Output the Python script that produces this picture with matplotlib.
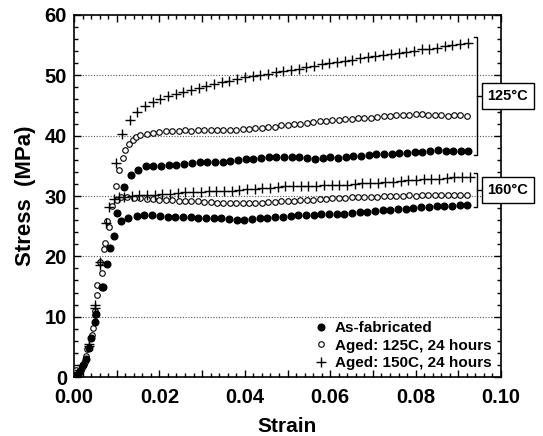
import matplotlib
matplotlib.use("Agg")
import matplotlib.pyplot as plt
from matplotlib.ticker import MultipleLocator, FuncFormatter

# As-fabricated, tested at 125C (filled circles, upper set)
strain_fab_125 = [0.0, 0.0010, 0.0022, 0.0035, 0.0049, 0.0065, 0.0078, 0.0094,
                  0.0100, 0.0116, 0.0133, 0.0151, 0.0168, 0.0186, 0.0204, 0.0222,
                  0.0240, 0.0258, 0.0276, 0.0294, 0.0312, 0.0330, 0.0348, 0.0366,
                  0.0384, 0.0402, 0.0420, 0.0438, 0.0456, 0.0474, 0.0492, 0.0510,
                  0.0528, 0.0546, 0.0564, 0.0582, 0.0600, 0.0618, 0.0636, 0.0654,
                  0.0672, 0.0690, 0.0708, 0.0726, 0.0744, 0.0762, 0.0780, 0.0798,
                  0.0816, 0.0834, 0.0852, 0.0870, 0.0888, 0.0906, 0.0922]
stress_fab_125 = [0.0, 0.5, 2.0, 4.8, 9.2, 14.9, 18.7, 23.4,
                  27.2, 31.5, 33.5, 34.3, 34.9, 35.0, 35.0, 35.1,
                  35.2, 35.3, 35.5, 35.6, 35.6, 35.7, 35.7, 35.8,
                  36.0, 36.2, 36.1, 36.3, 36.4, 36.4, 36.5, 36.4,
                  36.5, 36.3, 36.2, 36.3, 36.4, 36.3, 36.5, 36.6,
                  36.6, 36.8, 36.9, 36.9, 37.0, 37.1, 37.2, 37.3,
                  37.3, 37.5, 37.6, 37.4, 37.4, 37.4, 37.4]

# As-fabricated, tested at 160C (filled circles, lower set)
strain_fab_160 = [0.0, 0.0013, 0.0027, 0.0040, 0.0051, 0.0067, 0.0084, 0.0109,
                  0.0127, 0.0147, 0.0165, 0.0183, 0.0201, 0.0219, 0.0237, 0.0255,
                  0.0273, 0.0291, 0.0309, 0.0327, 0.0345, 0.0363, 0.0381, 0.0399,
                  0.0417, 0.0435, 0.0453, 0.0471, 0.0489, 0.0507, 0.0525, 0.0543,
                  0.0561, 0.0579, 0.0597, 0.0615, 0.0633, 0.0651, 0.0669, 0.0687,
                  0.0705, 0.0723, 0.0741, 0.0759, 0.0777, 0.0795, 0.0813, 0.0831,
                  0.0849, 0.0867, 0.0885, 0.0903, 0.0920]
stress_fab_160 = [0.0, 1.0, 3.0, 6.5, 10.5, 15.0, 21.3, 25.9,
                  26.4, 26.7, 26.8, 26.8, 26.7, 26.6, 26.6, 26.5,
                  26.5, 26.4, 26.4, 26.3, 26.3, 26.2, 26.1, 26.1,
                  26.2, 26.3, 26.4, 26.5, 26.6, 26.7, 26.8, 26.8,
                  26.9, 27.0, 27.0, 27.1, 27.1, 27.2, 27.3, 27.4,
                  27.5, 27.6, 27.7, 27.8, 27.9, 28.0, 28.1, 28.2,
                  28.3, 28.4, 28.4, 28.5, 28.5]

# Aged 125C 24 h (open circles)
strain_a125_125 = [0.0, 0.0008, 0.0018, 0.0028, 0.0041, 0.0049, 0.0055, 0.0066,
                   0.0073, 0.0083, 0.0098, 0.0106, 0.0114, 0.0120, 0.0128, 0.0137,
                   0.0146, 0.0155, 0.0170, 0.0185, 0.0200, 0.0215, 0.0230, 0.0245,
                   0.0260, 0.0275, 0.0290, 0.0305, 0.0320, 0.0335, 0.0350, 0.0365,
                   0.0380, 0.0395, 0.0410, 0.0425, 0.0440, 0.0455, 0.0470, 0.0485,
                   0.0500, 0.0515, 0.0530, 0.0545, 0.0560, 0.0575, 0.0590, 0.0605,
                   0.0620, 0.0635, 0.0650, 0.0665, 0.0680, 0.0695, 0.0710, 0.0725,
                   0.0740, 0.0755, 0.0770, 0.0785, 0.0800, 0.0815, 0.0830, 0.0845,
                   0.0860, 0.0875, 0.0890, 0.0905, 0.0920]
stress_a125_125 = [0.0, 0.6, 1.5, 3.4, 7.0, 10.3, 13.6, 17.2,
                   22.2, 24.8, 31.7, 34.3, 36.3, 37.6, 38.6, 39.3,
                   39.8, 40.1, 40.3, 40.5, 40.6, 40.7, 40.8, 40.8,
                   40.9, 40.8, 40.9, 40.9, 40.9, 41.0, 40.9, 41.0,
                   41.0, 41.1, 41.1, 41.3, 41.3, 41.5, 41.5, 41.7,
                   41.7, 41.9, 42.0, 42.1, 42.2, 42.4, 42.5, 42.6,
                   42.6, 42.7, 42.8, 42.9, 42.9, 43.0, 43.1, 43.2,
                   43.3, 43.4, 43.4, 43.5, 43.6, 43.6, 43.5, 43.5,
                   43.4, 43.3, 43.4, 43.5, 43.3]

strain_a125_160 = [0.0, 0.0005, 0.0014, 0.0026, 0.0031, 0.0044, 0.0049, 0.0055,
                   0.0062, 0.0071, 0.0078, 0.0090, 0.0100, 0.0110, 0.0125, 0.0140,
                   0.0155, 0.0170, 0.0185, 0.0200, 0.0215, 0.0230, 0.0245, 0.0260,
                   0.0275, 0.0290, 0.0305, 0.0320, 0.0335, 0.0350, 0.0365, 0.0380,
                   0.0395, 0.0410, 0.0425, 0.0440, 0.0455, 0.0470, 0.0485, 0.0500,
                   0.0515, 0.0530, 0.0545, 0.0560, 0.0575, 0.0590, 0.0605, 0.0620,
                   0.0635, 0.0650, 0.0665, 0.0680, 0.0695, 0.0710, 0.0725, 0.0740,
                   0.0755, 0.0770, 0.0785, 0.0800, 0.0815, 0.0830, 0.0845, 0.0860,
                   0.0875, 0.0890, 0.0905, 0.0920]
stress_a125_160 = [0.0, 1.2, 0.9, 2.5, 4.6, 8.2, 11.0, 15.3,
                   19.0, 21.2, 25.8, 28.3, 29.4, 29.8, 29.8, 29.7,
                   29.6, 29.5, 29.5, 29.4, 29.4, 29.3, 29.2, 29.2,
                   29.1, 29.1, 29.0, 29.0, 28.9, 28.9, 28.9, 28.8,
                   28.9, 28.9, 28.9, 28.9, 29.0, 29.0, 29.1, 29.1,
                   29.2, 29.3, 29.3, 29.4, 29.5, 29.5, 29.6, 29.6,
                   29.7, 29.8, 29.8, 29.9, 29.9, 29.9, 30.0, 30.0,
                   30.0, 30.0, 30.1, 30.0, 30.1, 30.1, 30.1, 30.2,
                   30.1, 30.2, 30.2, 30.2]

# Aged 150C 24 h (plus signs)
strain_a150_125 = [0.0, 0.0012, 0.0034, 0.0049, 0.0061, 0.0098, 0.0112, 0.0131,
                   0.0148, 0.0166, 0.0184, 0.0202, 0.0220, 0.0238, 0.0256, 0.0274,
                   0.0292, 0.0310, 0.0328, 0.0346, 0.0364, 0.0382, 0.0400, 0.0418,
                   0.0436, 0.0454, 0.0472, 0.0490, 0.0508, 0.0526, 0.0544, 0.0562,
                   0.0580, 0.0598, 0.0616, 0.0634, 0.0652, 0.0670, 0.0688, 0.0706,
                   0.0724, 0.0742, 0.0760, 0.0778, 0.0796, 0.0814, 0.0832, 0.0850,
                   0.0868, 0.0886, 0.0904, 0.0922]
stress_a150_125 = [0.0, 1.2, 5.1, 11.9, 19.1, 35.4, 40.2, 42.6,
                   43.9, 44.9, 45.5, 46.0, 46.5, 46.9, 47.3, 47.6,
                   47.9, 48.2, 48.6, 48.9, 49.1, 49.4, 49.7, 49.9,
                   50.1, 50.3, 50.5, 50.7, 50.9, 51.1, 51.4, 51.6,
                   51.8, 52.0, 52.2, 52.4, 52.6, 52.8, 53.0, 53.2,
                   53.3, 53.5, 53.7, 53.9, 54.1, 54.3, 54.4, 54.6,
                   54.8, 55.0, 55.2, 55.4]

strain_a150_160 = [0.0, 0.0018, 0.0036, 0.0050, 0.0062, 0.0076, 0.0082, 0.0093,
                   0.0105, 0.0117, 0.0135, 0.0153, 0.0171, 0.0189, 0.0207, 0.0225,
                   0.0243, 0.0261, 0.0279, 0.0297, 0.0315, 0.0333, 0.0351, 0.0369,
                   0.0387, 0.0405, 0.0423, 0.0441, 0.0459, 0.0477, 0.0495, 0.0513,
                   0.0531, 0.0549, 0.0567, 0.0585, 0.0603, 0.0621, 0.0639, 0.0657,
                   0.0675, 0.0693, 0.0711, 0.0729, 0.0747, 0.0765, 0.0783, 0.0801,
                   0.0819, 0.0837, 0.0855, 0.0873, 0.0891, 0.0909, 0.0927]
stress_a150_160 = [0.0, 2.0, 5.5, 11.5, 18.5, 25.5, 28.2, 29.5,
                   29.8, 29.9, 30.0, 30.1, 30.1, 30.2, 30.3, 30.4,
                   30.5, 30.6, 30.7, 30.7, 30.8, 30.8, 30.9, 30.9,
                   31.0, 31.1, 31.2, 31.3, 31.4, 31.5, 31.6, 31.6,
                   31.7, 31.7, 31.7, 31.8, 31.8, 31.9, 31.9, 32.0,
                   32.1, 32.2, 32.2, 32.3, 32.4, 32.5, 32.6, 32.7,
                   32.8, 32.9, 32.9, 33.0, 33.1, 33.1, 33.2]

legend_labels = ["As-fabricated", "Aged: 125C, 24 hours", "Aged: 150C, 24 hours"]
temp_labels = ["125\u00b0C", "160\u00b0C"]


def main():
    plt.rcParams["font.family"] = ["Liberation Sans", "DejaVu Sans"]
    plt.rcParams["font.weight"] = "bold"

    fig = plt.figure(figsize=(5.43, 4.36), dpi=100)
    ax = fig.add_axes([0.1363, 0.1353, 0.7864, 0.8303])

    filled = dict(marker="o", ms=4.8, mfc="black", mec="black", ls="none")
    hollow = dict(marker="o", ms=4.0, mfc="white", mec="black", mew=0.8, ls="none")
    plus = dict(marker="+", ms=7.0, mec="black", mew=1.0, ls="none")

    # open circles first so the other markers sit on top
    ax.plot(strain_a125_125, stress_a125_125, **hollow, label=legend_labels[1], zorder=3)
    ax.plot(strain_a125_160, stress_a125_160, **hollow, zorder=3)
    ax.plot(strain_fab_125, stress_fab_125, **filled, label=legend_labels[0], zorder=4)
    ax.plot(strain_fab_160, stress_fab_160, **filled, zorder=4)
    ax.plot(strain_a150_125, stress_a150_125, **plus, label=legend_labels[2], zorder=5)
    ax.plot(strain_a150_160, stress_a150_160, **plus, zorder=5)

    ax.set_xlim(0, 0.10)
    ax.set_ylim(0, 60)

    ax.xaxis.set_major_locator(MultipleLocator(0.01))
    ax.xaxis.set_minor_locator(MultipleLocator(0.002))
    ax.xaxis.set_major_formatter(FuncFormatter(
        lambda v, p: f"{v:.2f}" if round(v / 0.01) % 2 == 0 else ""))
    ax.yaxis.set_major_locator(MultipleLocator(10))
    ax.yaxis.set_minor_locator(MultipleLocator(2))

    ax.tick_params(which="both", direction="in", top=True, right=True,
                   width=1.0, labelsize=14.5)
    ax.tick_params(which="major", length=5)
    ax.tick_params(which="minor", length=3)
    ax.tick_params(axis="x", which="major", pad=8)
    ax.tick_params(axis="y", which="major", pad=5)
    for lab in ax.get_xticklabels() + ax.get_yticklabels():
        lab.set_fontweight("bold")

    for sp in ax.spines.values():
        sp.set_linewidth(1.2)

    for yv in [10, 20, 30, 40, 50]:
        ax.axhline(yv, color="#555555", lw=0.8, ls=(0, (1, 1.5)), zorder=1)

    ax.set_xlabel("Strain", fontsize=15, fontweight="bold", labelpad=7)
    ax.set_ylabel("Stress  (MPa)", fontsize=16, fontweight="bold", labelpad=6)

    # brackets grouping the test temperatures
    for (lo, hi), txt in zip([(36.8, 56.4), (28.2, 33.8)], temp_labels):
        xb = 0.0944
        ax.plot([xb - 0.0008, xb, xb, xb - 0.0008], [lo, lo, hi, hi],
                color="black", lw=1.0, clip_on=False, zorder=6)
        mid = (lo + hi) / 2
        ax.plot([xb, xb + 0.0008], [mid, mid], color="black", lw=1.0,
                clip_on=False, zorder=6)
        ax.text(0.1016, mid, txt, ha="center", va="center", fontsize=10.5,
                fontweight="bold", zorder=7, clip_on=False,
                bbox=dict(boxstyle="square,pad=0.4", fc="white", ec="black", lw=1.0))

    handles, labels = ax.get_legend_handles_labels()
    order = [1, 0, 2]
    ax.legend([handles[i] for i in order], [labels[i] for i in order],
              loc="lower right", bbox_to_anchor=(1.01, -0.02), frameon=False,
              handlelength=0.8, handletextpad=0.5, labelspacing=0.25,
              prop={"size": 11, "weight": "bold"})

    fig.savefig("out.png", dpi=100)


if __name__ == "__main__":
    main()
